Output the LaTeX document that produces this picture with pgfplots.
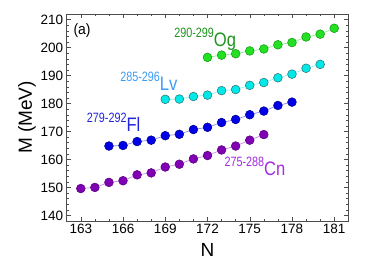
\documentclass[border=0pt]{standalone}
\usepackage{pgfplots}
\pgfplotsset{compat=1.18}
\usepackage{fontspec}
\setmainfont{Liberation Sans}
\usepackage{graphicx}
\definecolor{cnF}{HTML}{8000B4}
\definecolor{cnE}{HTML}{55007A}
\definecolor{cnL}{HTML}{C98BEB}
\definecolor{cnT}{HTML}{A32BE0}
\definecolor{flF}{HTML}{0000E6}
\definecolor{flE}{HTML}{00008A}
\definecolor{flL}{HTML}{8C8CF5}
\definecolor{flT}{HTML}{2424E0}
\definecolor{lvF}{HTML}{00E8E8}
\definecolor{lvE}{HTML}{2E6E6E}
\definecolor{lvL}{HTML}{8CF5F5}
\definecolor{lvT}{HTML}{3C9CF5}
\definecolor{ogF}{HTML}{22E022}
\definecolor{ogE}{HTML}{139413}
\definecolor{ogL}{HTML}{8CF08C}
\definecolor{ogT}{HTML}{1E951E}
\newcommand{\lab}[2]{\scalebox{0.8}[1]{\fontsize{13.5}{13.5}\selectfont\raisebox{9pt}{#1}}\scalebox{0.85}[1]{\fontsize{19.5}{19.5}\selectfont #2}}
\pgfplotstableread{
N M
163 149.6
164 150.0
165 151.8
166 152.4
167 154.5
168 155.2
169 157.3
170 158.3
171 160.2
172 161.4
173 163.4
174 164.8
175 166.9
176 168.9
}\cn
\pgfplotstableread{
N M
165 164.8
166 165.0
167 166.4
168 166.9
169 168.5
170 169.0
171 170.7
172 171.5
173 173.2
174 174.3
175 176.0
176 177.3
177 179.3
178 180.5
}\fl
\pgfplotstableread{
N M
169 181.5
170 181.6
171 182.5
172 183.0
173 184.6
174 185.0
175 186.5
176 187.5
177 189.2
178 190.5
179 192.6
180 194.0
}\lv
\pgfplotstableread{
N M
172 196.5
173 197.3
174 197.8
175 198.8
176 199.5
177 201.0
178 201.8
179 203.8
180 204.8
181 206.9
}\og
\begin{document}
\begin{tikzpicture}
\path[use as bounding box] (0,0) rectangle (374pt,262pt);
\begin{axis}[
  at={(66.7pt,41pt)}, anchor=south west,
  scale only axis, width=281.6pt, height=207pt,
  xmin=162, xmax=182, ymin=138, ymax=212,
  xtick={163,166,...,181}, ytick={140,150,...,210},
  minor x tick num=2, minor y tick num=4,
  tick align=inside, major tick length=4pt, minor tick length=2pt,
  axis line style={black!70, line width=0.8pt},
  every tick/.style={black!70},
  tick label style={font=\fontsize{13.5}{14}\selectfont},
  /pgf/number format/assume math mode=true,
  xlabel={N}, ylabel={M (MeV)},
  label style={font=\fontsize{19}{20}\selectfont},
  xlabel style={yshift=-2pt},
  ylabel style={yshift=-2pt},
  clip=false,
]
\addplot[cnL, line width=0.7pt, mark=*, mark size=4.4pt, mark options={fill=cnF, draw=cnE, line width=0.5pt}] table[x=N,y=M] {\cn};
\addplot[flL, line width=0.7pt, mark=*, mark size=4.4pt, mark options={fill=flF, draw=flE, line width=0.5pt}] table[x=N,y=M] {\fl};
\addplot[lvL, line width=0.7pt, mark=*, mark size=4.4pt, mark options={fill=lvF, draw=lvE, line width=0.5pt}] table[x=N,y=M] {\lv};
\addplot[ogL, line width=0.7pt, mark=*, mark size=4.4pt, mark options={fill=ogF, draw=ogE, line width=0.5pt}] table[x=N,y=M] {\og};
\node[anchor=base west, inner sep=0pt, text=ogT] at (axis cs:169.63,200.56) {\lab{290-299}{Og}};
\node[anchor=base west, inner sep=0pt, text=lvT] at (axis cs:165.79,184.58) {\lab{285-296}{Lv}};
\node[anchor=base west, inner sep=0pt, text=flT] at (axis cs:163.42,169.92) {\lab{279-292}{Fl}};
\node[anchor=base west, inner sep=0pt, text=cnT] at (axis cs:173.20,154.44) {\lab{275-288}{Cn}};
\node[anchor=base west, inner sep=0pt] at (axis cs:162.47,204.74) {\scalebox{0.93}[1]{\fontsize{15}{15}\selectfont (a)}};
\end{axis}
\end{tikzpicture}
\end{document}
